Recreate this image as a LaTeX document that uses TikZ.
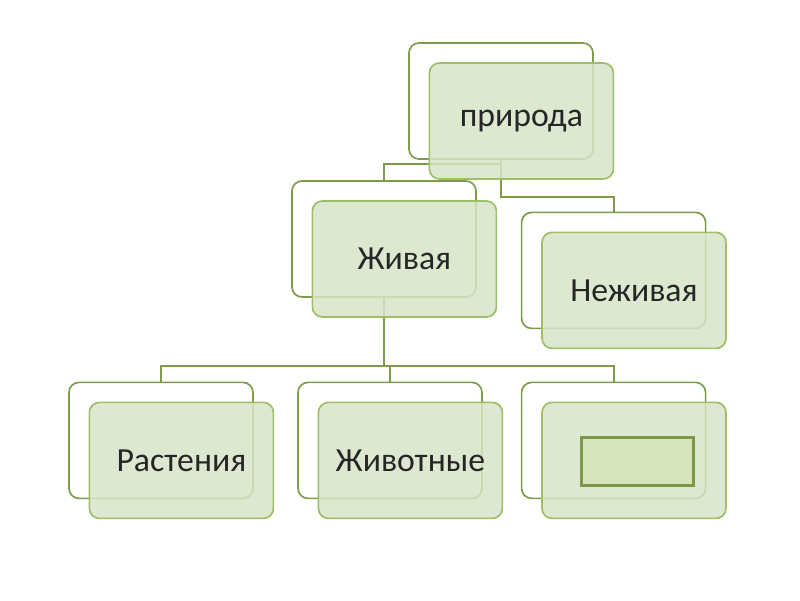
\documentclass[tikz,border=0pt]{standalone}
\usepackage{fontspec}
\setmainfont{Carlito}
\usetikzlibrary{positioning,calc}
\definecolor{leafdark}{HTML}{7E9C4A}
\definecolor{leafline}{HTML}{9EBE68}
\definecolor{leaffill}{HTML}{D8E4C8}
\definecolor{blankfill}{HTML}{D8E4BC}
\definecolor{blankline}{HTML}{7A9A48}

\begin{document}
\begin{tikzpicture}[
  line width=0.5pt,
  card/.style={rounded corners=0.25cm, minimum width=4.6cm,
               minimum height=2.9cm, inner sep=0pt},
  backcard/.style={card, fill=white, draw=leafdark, line width=1.2pt},
  frontcard/.style={card, fill=leaffill, fill opacity=0.85, text opacity=1,
                    draw=leafline, line width=1.2pt,
                    font=\fontsize{24}{27}\selectfont, text=black!85},
  link/.style={draw=leafdark, line width=1.4pt},
  blank/.style={fill=blankfill, draw=blankline, line width=2pt,
                minimum width=2.8cm, minimum height=1.2cm}
]
  % page
  \useasboundingbox[fill=white] (0,0) rectangle (20,15);

  % back cards
  \node[backcard] (natB) at (12.525, 12.475) {};
  \node[backcard] (liveB) at (9.6, 9.025) {};
  \node[backcard] (deadB) at (15.34, 8.24) {};
  \node[backcard] (plantB) at (4.025, 3.99) {};
  \node[backcard] (animB) at (9.75, 3.99) {};
  \node[backcard] (restB) at (15.34, 3.99) {};

  % connectors
  \draw[link] (natB.south) -- ++(0,-0.1) -| (liveB.north);
  \draw[link] (natB.south) -- ++(0,-0.925) -| (deadB.north);
  \draw[link] (liveB.south) -- ++(0,-1.7) coordinate (hub);
  \draw[link] (hub) -| (plantB.north);
  \draw[link] (hub) -| (animB.north);
  \draw[link] (hub) -| (restB.north);

  % front cards
  \node[frontcard] (nat) at ([shift={(0.51,-0.5)}]natB.center) {природа};
  \node[frontcard] (live) at ([shift={(0.51,-0.5)}]liveB.center) {Живая};
  \node[frontcard] (dead) at ([shift={(0.51,-0.5)}]deadB.center) {Неживая};
  \node[frontcard] (plant) at ([shift={(0.51,-0.5)}]plantB.center) {Растения};
  \node[frontcard] (anim) at ([shift={(0.51,-0.5)}]animB.center) {Животные};
  \node[frontcard] (rest) at ([shift={(0.51,-0.5)}]restB.center) {};

  % empty field
  \node[blank] (gap) at ([shift={(0.09,-0.02)}]rest.center) {};
\end{tikzpicture}
\end{document}
